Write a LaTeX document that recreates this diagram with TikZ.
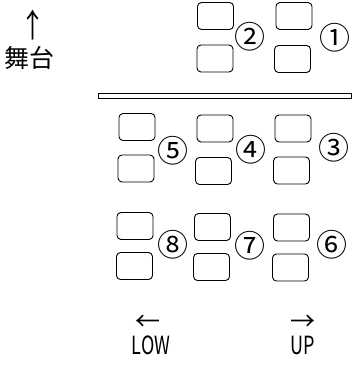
\documentclass[tikz,border=0pt]{standalone}
\usepackage{fontspec}
\setmainfont{Noto Sans CJK JP}
\begin{document}
\begin{tikzpicture}[x=1pt,y=-1pt,
  seat/.style={draw, line width=0.9pt, rounded corners=4pt, minimum width=36pt, minimum height=27pt, inner sep=0pt},
  num/.style={font=\fontsize{31}{31}\selectfont, inner sep=0pt},
  lbl/.style={font=\fontsize{25}{25}\selectfont, inner sep=0pt},
  arr/.style={font=\fontsize{25}{25}\selectfont, inner sep=0pt}]
\useasboundingbox (0,0) rectangle (360,366);
% group 2 and 1
\node[seat] (s2a) at (215.5,16) {};
\node[seat] (s2b) at (215,58.5) {};
\node[num] (n2) at (250,37) {②};
\node[seat] (s1a) at (294,16) {};
\node[seat] (s1b) at (292.5,59) {};
\node[num] (n1) at (335,38) {①};
% stage bar
\draw[line width=0.9pt] (98,93) rectangle (351,98);
% groups 5 4 3
\node[seat] (s5a) at (137,127) {};
\node[seat] (s5b) at (136,168.5) {};
\node[num] (n5) at (173,151) {⑤};
\node[seat] (s4a) at (215,128.5) {};
\node[seat] (s4b) at (213.5,171) {};
\node[num] (n4) at (251,150) {④};
\node[seat] (s3a) at (293,128.5) {};
\node[seat] (s3b) at (291.5,170.5) {};
\node[num] (n3) at (334,148) {③};
% groups 8 7 6
\node[seat] (s8a) at (135,226) {};
\node[seat] (s8b) at (134.5,266) {};
\node[num] (n8) at (173,245) {⑧};
\node[seat] (s7a) at (212.5,227) {};
\node[seat] (s7b) at (211.5,267) {};
\node[num] (n7) at (250,246) {⑦};
\node[seat] (s6a) at (291.5,227.5) {};
\node[seat] (s6b) at (290.5,267.5) {};
\node[num] (n6) at (332,245) {⑥};
% stage label
\node[arr] (up) at (33,25) {\scalebox{1}[1.3]{↑}};
\node[lbl] (stage) at (30,58) {舞台};
% bottom
\node[arr] (la) at (148,323) {←};
\node[lbl] (low) at (151,345) {\scalebox{0.72}[1]{LOW}};
\node[arr] (ra) at (303,323) {→};
\node[lbl] (upl) at (303,345) {\scalebox{0.72}[1]{UP}};
\end{tikzpicture}
\end{document}
